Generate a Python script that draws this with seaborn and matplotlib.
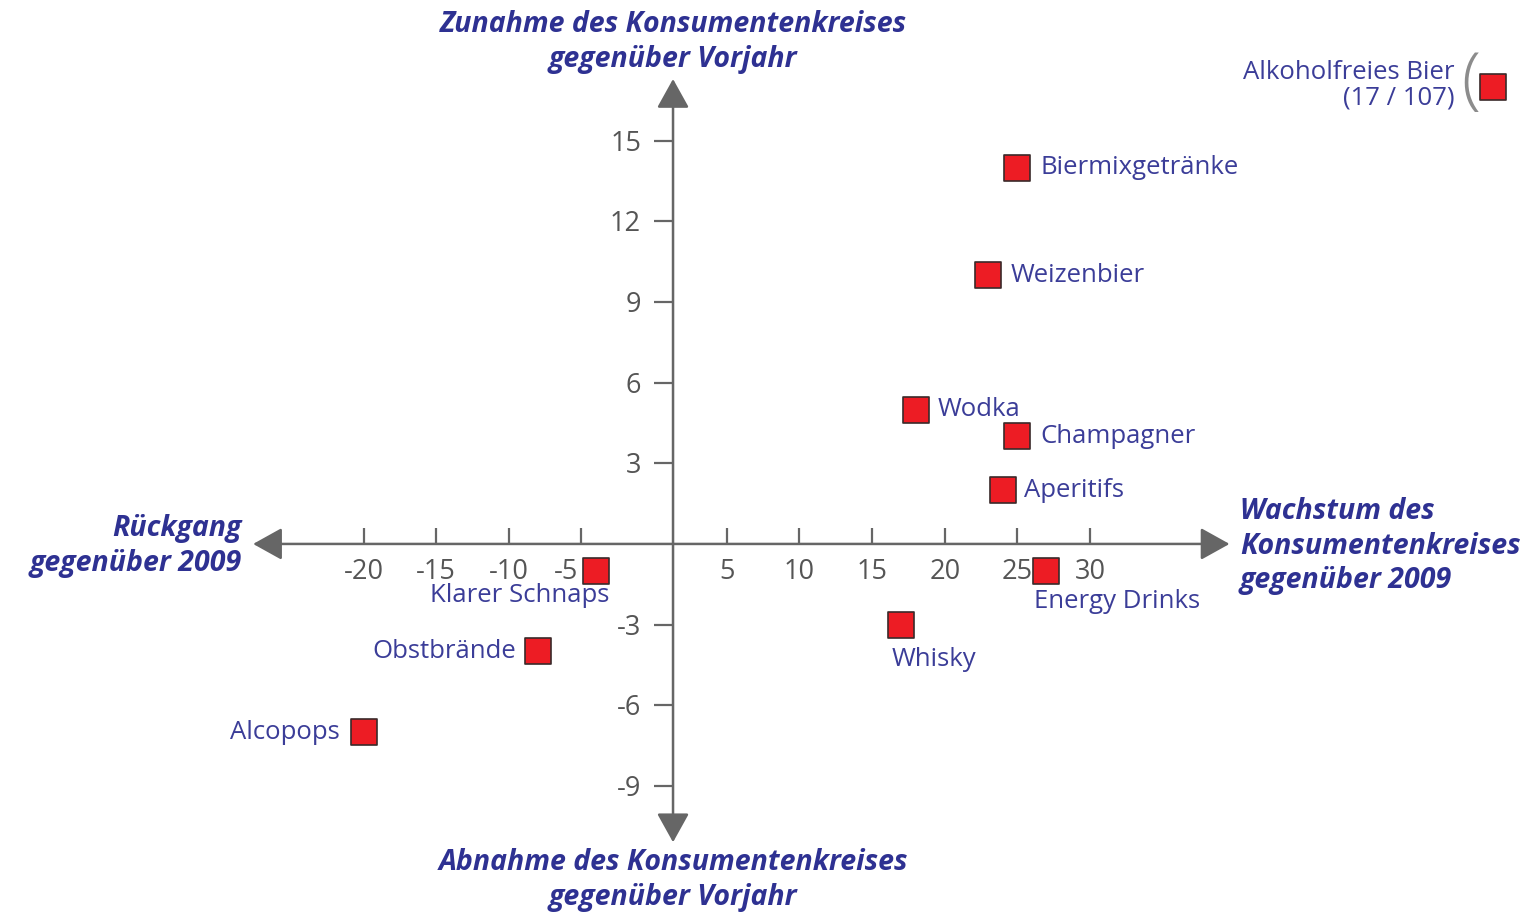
"""
Consumer reach of drink categories: change vs. 2009 (x) and vs. previous year (y).
Quadrant chart with arrow axes, drawn with seaborn/matplotlib.
"""

import matplotlib.pyplot as plt
import numpy as np
import pandas as pd
import seaborn as sns
from matplotlib.patches import FancyArrowPatch

# --- data -----------------------------------------------------------------
DRINKS = [
    "Alkoholfreies Bier", "Biermixgetränke", "Weizenbier", "Wodka", "Champagner",
    "Aperitifs", "Energy Drinks", "Klarer Schnaps", "Whisky", "Obstbrände", "Alcopops",
]
GROWTH_VS_2009 = [107, 25, 23, 18, 25, 24, 27, -4, 17, -8, -20]
CHANGE_VS_PREV_YEAR = [17, 14, 10, 5, 4, 2, -1, -1, -3, -4, -7]

X_TICKS = [-20, -15, -10, -5, 5, 10, 15, 20, 25, 30]
Y_TICKS = [-9, -6, -3, 3, 6, 9, 12, 15]

TITLE_TOP = "Zunahme des Konsumentenkreises\ngegenüber Vorjahr"
TITLE_BOTTOM = "Abnahme des Konsumentenkreises\ngegenüber Vorjahr"
TITLE_LEFT = "Rückgang\ngegenüber 2009"
TITLE_RIGHT = "Wachstum des\nKonsumentenkreises\ngegenüber 2009"

# --- layout / style -------------------------------------------------------
W, H = 1530, 914
XLIM = (-45.02, 60.28)
YLIM = (-13.77, 20.24)
X_BREAK = 57.7          # out-of-scale values are drawn here (axis break)
Y_AXIS_AT = 1.3         # vertical axis sits slightly right of x=0
X_ARROW = (-27.6, 39.6)
Y_ARROW = (-11.1, 17.3)

AXIS_GREY = "#666666"
NAVY = "#2e3192"
LABEL_BLUE = "#3b3d98"
RED = "#ed1c24"

# label placement: (dx px, dy px, ha)
LABEL_POS = {
    "Alkoholfreies Bier": (-38, 2, "right"),
    "Biermixgetränke": (23, 0, "left"),
    "Weizenbier": (22, 0, "left"),
    "Wodka": (22, 0, "left"),
    "Champagner": (23, 0, "left"),
    "Aperitifs": (21, 0, "left"),
    "Energy Drinks": (-12, -31, "left"),
    "Klarer Schnaps": (13, -25, "right"),
    "Whisky": (-10, -35, "left"),
    "Obstbrände": (-22, 0, "right"),
    "Alcopops": (-24, 0, "right"),
}

sns.set_style("white")
plt.rcParams["font.family"] = ["Open Sans", "DejaVu Sans"]

df = pd.DataFrame({"drink": DRINKS, "x": GROWTH_VS_2009, "y": CHANGE_VS_PREV_YEAR})
df["x_plot"] = np.minimum(df["x"], X_BREAK)

fig = plt.figure(figsize=(W / 100, H / 100), dpi=100)
ax = fig.add_axes([0, 0, 1, 1])
ax.set_xlim(*XLIM)
ax.set_ylim(*YLIM)
ax.axis("off")

# axes with arrow heads
for pos_a, pos_b in [((X_ARROW[0], 0), (X_ARROW[1], 0)),
                     ((Y_AXIS_AT, Y_ARROW[0]), (Y_AXIS_AT, Y_ARROW[1]))]:
    ax.add_patch(FancyArrowPatch(
        pos_a, pos_b, arrowstyle="<|-|>,head_length=18,head_width=10",
        mutation_scale=1, color=AXIS_GREY, lw=1.8, shrinkA=0, shrinkB=0, zorder=1,
    ))

# tick marks
ax.vlines(X_TICKS, 0, 0.6, color=AXIS_GREY, lw=1.6, zorder=1)
ax.hlines(Y_TICKS, 0, Y_AXIS_AT, color=AXIS_GREY, lw=1.6, zorder=1)

for xt in X_TICKS:
    dx, ha = (-3, "right") if xt == -5 else (0, "center")
    ax.annotate(str(xt), (xt, 0), xytext=(dx, -28), textcoords="offset pixels",
                ha=ha, va="center", fontsize=19.5, color="#555555")
for yt in Y_TICKS:
    ax.annotate(str(yt), (0, yt), xytext=(-13, -3), textcoords="offset pixels",
                ha="right", va="center", fontsize=19.5, color="#555555")

# points
sns.scatterplot(data=df, x="x_plot", y="y", marker="s", s=330, color=RED,
                edgecolor="#3a2a2a", linewidth=1.2, ax=ax, zorder=3, legend=False)

for _, row in df.iterrows():
    dx, dy, ha = LABEL_POS[row["drink"]]
    text = row["drink"]
    if row["x"] > X_BREAK:
        text = f"{row['drink']}\n({row['y']} / {row['x']})"
        ax.annotate("(", (row["x_plot"], row["y"]), xytext=(-22, 4),
                    textcoords="offset pixels", ha="center", va="center",
                    fontsize=50, fontweight="light", color="#8c8c8c")
    ax.annotate(text, (row["x_plot"], row["y"]), xytext=(dx, dy),
                textcoords="offset pixels", ha=ha, va="center", fontsize=18.5,
                color=LABEL_BLUE, multialignment="right", linespacing=1.05)

# quadrant titles
title_kw = dict(fontsize=20.5, color=NAVY, fontweight="bold", fontstyle="italic",
                linespacing=1.25, va="center")
fig.text(673 / W, 1 - 42 / H, TITLE_TOP, ha="center", **title_kw)
fig.text(673 / W, 1 - 880 / H, TITLE_BOTTOM, ha="center", **title_kw)
fig.text(242 / W, 1 - 546 / H, TITLE_LEFT, ha="right", multialignment="right", **title_kw)
fig.text(1240 / W, 1 - 546 / H, TITLE_RIGHT, ha="left", **title_kw)

fig.savefig("out.png", dpi=100)
